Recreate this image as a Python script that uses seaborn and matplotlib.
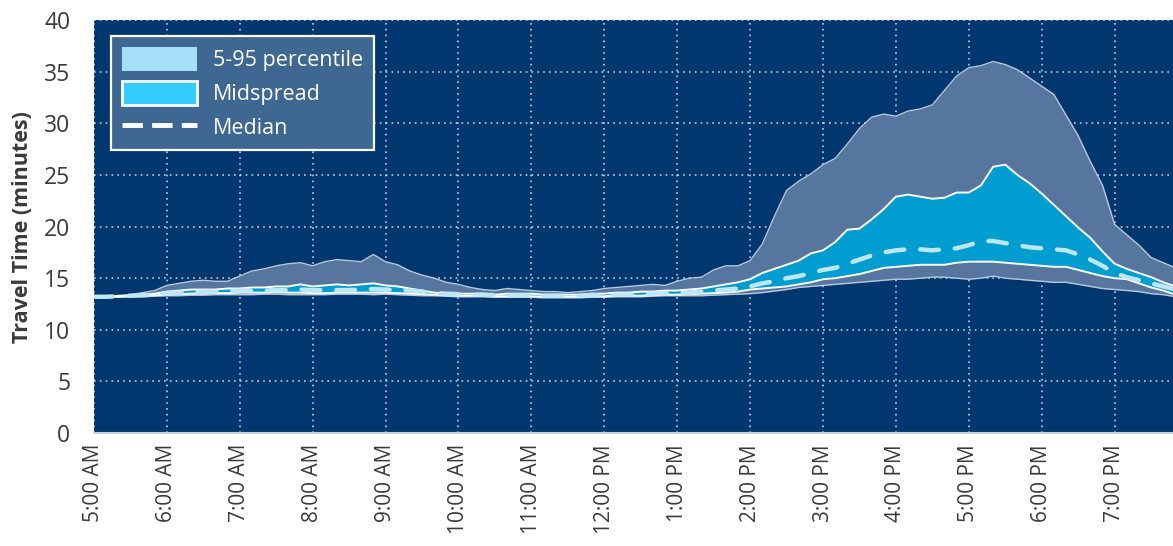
import numpy as np
import pandas as pd
import seaborn as sns
import matplotlib
matplotlib.use("Agg")
import matplotlib.pyplot as plt
from matplotlib.patches import Patch
from matplotlib.lines import Line2D

# Travel time percentiles in 10-minute bins, 5:00 AM to 7:50 PM
times = [f"{h:02d}:{m:02d}" for h in range(5, 20) for m in range(0, 60, 10)]

p95 = [13.2, 13.25, 13.3, 13.4, 13.6, 13.8,
       14.3, 14.5, 14.7, 14.8, 14.7, 14.7,
       15.2, 15.7, 15.9, 16.2, 16.4, 16.5,
       16.2, 16.6, 16.8, 16.7, 16.6, 17.3,
       16.6, 16.3, 15.7, 15.3, 15.0, 14.6,
       14.4, 14.1, 13.9, 13.8, 14.0, 13.9,
       13.8, 13.7, 13.7, 13.6, 13.7, 13.8,
       14.0, 14.1, 14.2, 14.3, 14.4, 14.3,
       14.7, 15.0, 15.1, 15.8, 16.2, 16.2,
       16.7, 18.3, 21.0, 23.5, 24.4, 25.1,
       26.0, 26.6, 28.0, 29.5, 30.6, 30.9,
       30.7, 31.2, 31.4, 31.8, 33.2, 34.6,
       35.4, 35.6, 36.0, 35.7, 35.2, 34.4,
       33.6, 32.8, 30.8, 28.8, 26.3, 24.0,
       20.2, 19.2, 18.2, 17.0, 16.5, 16.0]

p75 = [13.2, 13.2, 13.3, 13.3, 13.4, 13.5,
       13.7, 13.8, 13.9, 13.9, 13.9, 14.0,
       14.0, 14.1, 14.1, 14.2, 14.2, 14.4,
       14.2, 14.3, 14.4, 14.3, 14.4, 14.5,
       14.3, 14.2, 14.0, 13.8, 13.6, 13.5,
       13.5, 13.5, 13.5, 13.4, 13.5, 13.5,
       13.5, 13.4, 13.4, 13.4, 13.4, 13.5,
       13.5, 13.6, 13.6, 13.7, 13.7, 13.8,
       13.8, 13.9, 14.0, 14.2, 14.4, 14.6,
       14.9, 15.5, 15.9, 16.3, 16.7, 17.4,
       17.7, 18.5, 19.7, 19.8, 20.7, 21.7,
       22.9, 23.1, 22.9, 22.7, 22.8, 23.3,
       23.3, 24.0, 25.8, 26.0, 25.0, 24.2,
       23.2, 22.1, 21.0, 19.9, 18.9, 17.6,
       16.4, 15.9, 15.5, 15.1, 14.6, 14.2]

median = [13.2, 13.2, 13.25, 13.3, 13.35, 13.4,
          13.55, 13.6, 13.65, 13.7, 13.7, 13.75,
          13.8, 13.8, 13.8, 13.85, 13.85, 13.9,
          13.85, 13.85, 13.85, 13.85, 13.9, 13.95,
          13.9, 13.85, 13.8, 13.7, 13.55, 13.5,
          13.45, 13.4, 13.4, 13.35, 13.35, 13.35,
          13.35, 13.3, 13.3, 13.3, 13.3, 13.35,
          13.35, 13.4, 13.4, 13.45, 13.5, 13.55,
          13.55, 13.6, 13.7, 13.8, 13.9, 14.0,
          14.2, 14.5, 14.7, 15.0, 15.2, 15.5,
          15.8, 16.0, 16.4, 16.8, 17.2, 17.5,
          17.7, 17.8, 17.8, 17.7, 17.8, 17.9,
          18.2, 18.6, 18.6, 18.4, 18.2, 18.0,
          17.9, 17.8, 17.7, 17.3, 16.8, 16.2,
          15.5, 15.1, 14.8, 14.5, 14.2, 13.9]

p25 = [13.2, 13.2, 13.2, 13.25, 13.3, 13.35,
       13.4, 13.45, 13.5, 13.5, 13.55, 13.55,
       13.6, 13.6, 13.6, 13.65, 13.6, 13.6,
       13.55, 13.55, 13.6, 13.6, 13.6, 13.6,
       13.6, 13.55, 13.5, 13.45, 13.4, 13.35,
       13.3, 13.3, 13.3, 13.25, 13.25, 13.25,
       13.25, 13.2, 13.2, 13.2, 13.2, 13.25,
       13.25, 13.3, 13.3, 13.3, 13.35, 13.4,
       13.4, 13.45, 13.5, 13.55, 13.6, 13.7,
       13.9, 14.0, 14.1, 14.2, 14.4, 14.6,
       14.9, 15.0, 15.2, 15.4, 15.7, 16.0,
       16.1, 16.2, 16.3, 16.3, 16.3, 16.5,
       16.6, 16.6, 16.6, 16.5, 16.4, 16.3,
       16.2, 16.1, 16.1, 15.8, 15.5, 15.2,
       15.0, 14.9, 14.5, 14.1, 13.8, 13.4]

p5 = [13.15, 13.15, 13.15, 13.2, 13.2, 13.25,
      13.3, 13.3, 13.35, 13.35, 13.4, 13.4,
      13.4, 13.4, 13.45, 13.45, 13.4, 13.4,
      13.4, 13.4, 13.45, 13.45, 13.45, 13.4,
      13.45, 13.4, 13.35, 13.3, 13.3, 13.25,
      13.2, 13.2, 13.2, 13.15, 13.15, 13.15,
      13.15, 13.1, 13.1, 13.1, 13.1, 13.15,
      13.15, 13.2, 13.2, 13.2, 13.25, 13.3,
      13.3, 13.3, 13.3, 13.35, 13.4, 13.45,
      13.5, 13.6, 13.75, 13.9, 14.1, 14.2,
      14.3, 14.4, 14.5, 14.6, 14.7, 14.8,
      14.9, 14.9, 15.0, 15.1, 15.1, 15.0,
      14.9, 15.0, 15.2, 15.0, 14.9, 14.8,
      14.7, 14.6, 14.6, 14.4, 14.2, 14.0,
      13.9, 13.8, 13.7, 13.5, 13.4, 13.2]

tick_hours = list(range(5, 20))
tick_labels = ["5:00 AM", "6:00 AM", "7:00 AM", "8:00 AM", "9:00 AM", "10:00 AM",
               "11:00 AM", "12:00 PM", "1:00 PM", "2:00 PM", "3:00 PM", "4:00 PM",
               "5:00 PM", "6:00 PM", "7:00 PM"]
y_ticks = [0, 5, 10, 15, 20, 25, 30, 35, 40]

df = pd.DataFrame({"time": times, "p5": p5, "p25": p25, "median": median,
                   "p75": p75, "p95": p95})
df["hour"] = df["time"].map(lambda s: int(s[:2]) + int(s[3:]) / 60)

sns.set_theme(style="white")
plt.rcParams["font.family"] = ["Open Sans", "DejaVu Sans"]

NAVY = "#00376f"
OUTER_FILL = "#5676a0"
MID_FILL = "#009dd0"
TEXT = "#3a3a3a"

fig = plt.figure(figsize=(11.73, 5.46), dpi=100)
ax = fig.add_axes([0.080, 0.207, 0.920, 0.756])
ax.set_facecolor(NAVY)

# 5-95 percentile band
ax.fill_between(df["hour"], df["p5"], df["p95"], color=OUTER_FILL, lw=0, zorder=2)
sns.lineplot(data=df, x="hour", y="p95", ax=ax, color="#b9c8dc", lw=1.0, zorder=3)
sns.lineplot(data=df, x="hour", y="p5", ax=ax, color="#b9c8dc", lw=1.0, zorder=3)

# midspread band (25-75)
ax.fill_between(df["hour"], df["p25"], df["p75"], color=MID_FILL, lw=0, zorder=4)
sns.lineplot(data=df, x="hour", y="p75", ax=ax, color="white", lw=1.4, zorder=5)
sns.lineplot(data=df, x="hour", y="p25", ax=ax, color="white", lw=1.4, zorder=5)

# median
sns.lineplot(data=df, x="hour", y="median", ax=ax, color="#bfe6f5", lw=3.2, zorder=6)
med_line = ax.lines[-1]
med_line.set_dashes([4.2, 3.6])
med_line.set_dash_capstyle("round")

ax.set_xlim(5, 19.8)
ax.set_ylim(0, 40)
ax.set_xticks(tick_hours)
ax.set_xticklabels(tick_labels, rotation=90, fontsize=15, color=TEXT)
ax.set_yticks(y_ticks)
ax.set_yticklabels([str(v) for v in y_ticks], fontsize=16.5, color=TEXT)
ax.tick_params(axis="x", length=0, pad=8)
ax.tick_params(axis="y", length=0, pad=17)
ax.set_xlabel("")
ax.set_ylabel("Travel Time (minutes)", fontsize=15.5, fontweight="bold",
              color=TEXT, labelpad=8)

ax.grid(True, color="white", alpha=0.75, linestyle=(0, (1, 2.5)), linewidth=1.2)
for gl in ax.get_xgridlines() + ax.get_ygridlines():
    gl.set_zorder(1)

for side in ["top", "right", "left"]:
    ax.spines[side].set_visible(False)
ax.spines["bottom"].set_color("#c8d0dc")
ax.spines["bottom"].set_linewidth(1.5)

handles = [
    Patch(facecolor="#a6e0f8", edgecolor="none", label="5-95 percentile"),
    Patch(facecolor="#33ccff", edgecolor="white", linewidth=2, label="Midspread"),
    Line2D([0], [0], color="white", lw=3.5, dashes=[4.2, 1.9], label="Median"),
]
leg = ax.legend(handles=handles, loc="upper left", bbox_to_anchor=(0.016, 0.961),
                borderaxespad=0, fontsize=15.5, labelcolor="white",
                handlelength=3.5, handleheight=1.35, handletextpad=0.75,
                labelspacing=0.45, borderpad=0.5, frameon=True, fancybox=False)
leg.get_frame().set_facecolor("#3e6891")
leg.get_frame().set_edgecolor("white")
leg.get_frame().set_linewidth(1.6)
leg.get_frame().set_alpha(1)
leg.set_zorder(10)

fig.savefig("out.png", dpi=100)
